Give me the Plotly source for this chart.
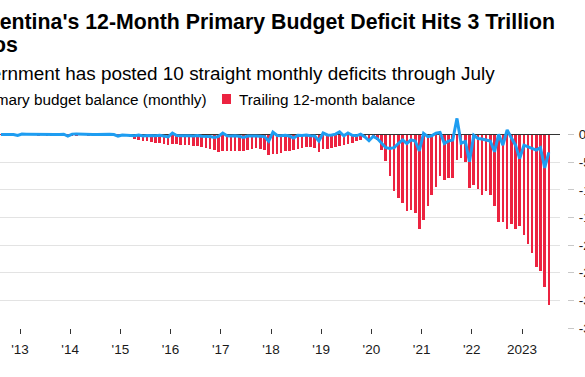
import plotly.graph_objects as go
import pandas as pd
from datetime import datetime, timedelta

# ---------------- data (billions of pesos) ----------------
first_month = "2012-08-01"

monthly_balance = [
    5, 8, 6, 4, -15,                                            # 2012 Aug-Dec
    10, 8, 6, 9, 12, 5, 3, 6, 4, 5, 8, -25,                     # 2013
    10, 12, 8, 10, 6, 3, 5, 8, 4, 6, 2, -25,                    # 2014
    -5, -10, -15, -20, -5, -25, -15, -20, -20, -10, -25, -40,   # 2015
    30, -15, -20, -15, -20, -25, -15, -30, -30, -35, -50, -30,  # 2016
    30, -20, -25, -20, -30, -50, -25, -20, -25, -30, -35, -120, # 2017
    45, -15, -20, -10, -25, -60, -10, -15, -5, -20, -25, -115,  # 2018
    30, -5, -10, 10, 50, -20, 30, -10, -20, 10, -40, -110,      # 2019
    -30, -75, -160, -235, -250, -235, -160, -95, -160, -95, -115, -295,  # 2020
    25, -35, -20, 25, 40, -160, -115, -95, 295, -155, -125, -490,        # 2021
    -10, -70, -80, -95, -115, -310, 5, -190, 85, -55, -190, -430,        # 2022
    -190, -220, -250, -280, -235, -600, -320,                            # 2023 Jan-Jul
]

trailing_balance = [
    -5, -6, -8, -8, -4,                                                  # 2012 Aug-Dec
    -3, -2, -4, -5, -6, -5, -6, -8, -8, -7, -6, -10,                     # 2013
    -8, -6, -5, -4, -6, -8, -9, -10, -12, -12, -14, -15,                 # 2014
    -15, -30, -50, -80, -90, -110, -120, -135, -150, -150, -170, -195,   # 2015
    -170, -170, -180, -180, -195, -210, -210, -225, -240, -260, -270, -315,  # 2016
    -290, -290, -290, -290, -300, -295, -275, -255, -245, -255, -280, -370,  # 2017
    -350, -345, -335, -300, -300, -270, -255, -240, -230, -230, -240, -320,  # 2018
    -260, -255, -240, -230, -210, -180, -170, -150, -120, -90, -60, -70,     # 2019
    -60, -100, -270, -485, -755, -1015, -1150, -1240, -1390, -1370, -1420, -1700,  # 2020
    -1545, -1300, -1100, -940, -755, -815, -785, -785, -450, -420, -500, -960,     # 2021
    -905, -990, -1100, -1015, -1090, -1290, -1580, -1580, -1705, -1615, -1705, -1650,  # 2022
    -1815, -1980, -2140, -2395, -2470, -2760, -3085,                     # 2023 Jan-Jul
]

x_tick_dates = [f"{y}-01-01" for y in range(2013, 2024)]
x_tick_labels = ["'13", "'14", "'15", "'16", "'17", "'18", "'19", "'20", "'21", "'22", "2023"]

y_tick_vals = [0, -500, -1000, -1500, -2000, -2500, -3000, -3500]
y_tick_labels = ["0", "-500B", "-1T", "-1.5T", "-2T", "-2.5T", "-3T", "-3.5T"]

title_line1 = "Argentina's 12-Month Primary Budget Deficit Hits 3 Trillion"
title_line2 = "Pesos"
subtitle_text = "Government has posted 10 straight monthly deficits through July"
legend_line_name = "Primary budget balance (monthly)"
legend_bar_name = "Trailing 12-month balance"

# ---------------- layout constants ----------------
W, H = 585, 377
M_T, M_B = 117, 49
PLOT_W = 560
PLOT_H = H - M_T - M_B
BLUE = "#1e9df1"
RED = "#ec2340"
FONT = "Liberation Sans, Arial, Helvetica, sans-serif"

months = pd.date_range(first_month, periods=len(monthly_balance), freq="MS") + pd.Timedelta(days=14)

px_per_day = 502 / (datetime(2023, 1, 1) - datetime(2013, 1, 1)).days
x_left = datetime(2013, 1, 1) - timedelta(days=20 / px_per_day)
x_right = x_left + timedelta(days=PLOT_W / px_per_day)
y_range = [-3500, 320]


def px_x(px):
    return px / W


def px_y(px):
    return (H - M_B - px) / PLOT_H


fig = go.Figure()
fig.add_trace(go.Bar(
    x=months, y=trailing_balance, name=legend_bar_name,
    marker=dict(color=RED, line=dict(width=0)),
    width=19 * 86400000, showlegend=False, hoverinfo="skip",
))
fig.add_trace(go.Scatter(
    x=months, y=monthly_balance, name=legend_line_name, mode="lines",
    line=dict(color=BLUE, width=3), showlegend=False, hoverinfo="skip",
))
# invisible carrier so the right-hand tick axis is drawn
fig.add_trace(go.Scatter(
    x=[months[0]], y=[0], yaxis="y2", mode="markers",
    marker=dict(opacity=0, size=1), showlegend=False, hoverinfo="skip",
))

fig.update_layout(
    width=W, height=H, autosize=False,
    margin=dict(l=0, r=0, t=M_T, b=M_B, pad=0, autoexpand=False),
    paper_bgcolor="white", plot_bgcolor="white",
    font=dict(family=FONT, size=13, color="#1a1a1a"),
    showlegend=False,
    xaxis=dict(
        type="date", domain=[0, PLOT_W / W], range=[x_left, x_right],
        tickmode="array", tickvals=x_tick_dates, ticktext=x_tick_labels,
        ticks="outside", ticklen=5, tickwidth=1, tickcolor="#333333",
        ticklabelstandoff=4, automargin=False,
        showgrid=False, zeroline=False, showline=False,
        tickfont=dict(size=13.5, color="#1a1a1a"),
    ),
    yaxis=dict(
        range=y_range, side="right", automargin=False,
        tickmode="array", tickvals=y_tick_vals,
        showticklabels=False, ticks="",
        showgrid=True, gridcolor="#e3e3e3", gridwidth=1,
        zeroline=True, zerolinecolor="#333333", zerolinewidth=1,
        showline=False,
    ),
    yaxis2=dict(
        range=y_range, overlaying="y", anchor="free", position=567 / W, side="right",
        automargin=False,
        tickmode="array", tickvals=y_tick_vals, ticktext=y_tick_labels,
        ticks="outside", ticklen=6, tickwidth=1, tickcolor="#c8c8c8",
        ticklabelstandoff=2,
        showgrid=False, zeroline=False, showline=False,
        tickfont=dict(size=13.5, color="#1a1a1a"),
    ),
    bargap=0,
)

# title (two lines), subtitle
fig.add_annotation(
    text=f"<b>{title_line1}</b>", xref="paper", yref="paper",
    x=px_x(557), y=px_y(22), xanchor="right", yanchor="middle",
    showarrow=False, font=dict(family=FONT, size=21.3, color="#000000"),
)
fig.add_annotation(
    text=f"<b>{title_line2}</b>", xref="paper", yref="paper",
    x=px_x(20), y=px_y(45), xanchor="right", yanchor="middle",
    showarrow=False, font=dict(family=FONT, size=21.3, color="#000000"),
)
fig.add_annotation(
    text=subtitle_text, xref="paper", yref="paper",
    x=px_x(497), y=px_y(73), xanchor="right", yanchor="middle",
    showarrow=False, font=dict(family=FONT, size=18.9, color="#000000"),
)
# legend
fig.add_shape(type="line", xref="paper", yref="paper",
              x0=px_x(-45), x1=px_x(-27), y0=px_y(99), y1=px_y(99),
              line=dict(color=BLUE, width=3))
fig.add_annotation(
    text=legend_line_name, xref="paper", yref="paper",
    x=px_x(209), y=px_y(99), xanchor="right", yanchor="middle",
    showarrow=False, font=dict(family=FONT, size=15.3, color="#000000"),
)
fig.add_shape(type="rect", xref="paper", yref="paper",
              x0=px_x(222), x1=px_x(231), y0=px_y(104), y1=px_y(94),
              fillcolor=RED, line=dict(width=0))
fig.add_annotation(
    text=legend_bar_name, xref="paper", yref="paper",
    x=px_x(237), y=px_y(99), xanchor="left", yanchor="middle",
    showarrow=False, font=dict(family=FONT, size=15.3, color="#000000"),
)

fig.write_html(
    "out.html",
    config={"displayModeBar": False},
    post_script="document.body.style.margin='0px';",
)
